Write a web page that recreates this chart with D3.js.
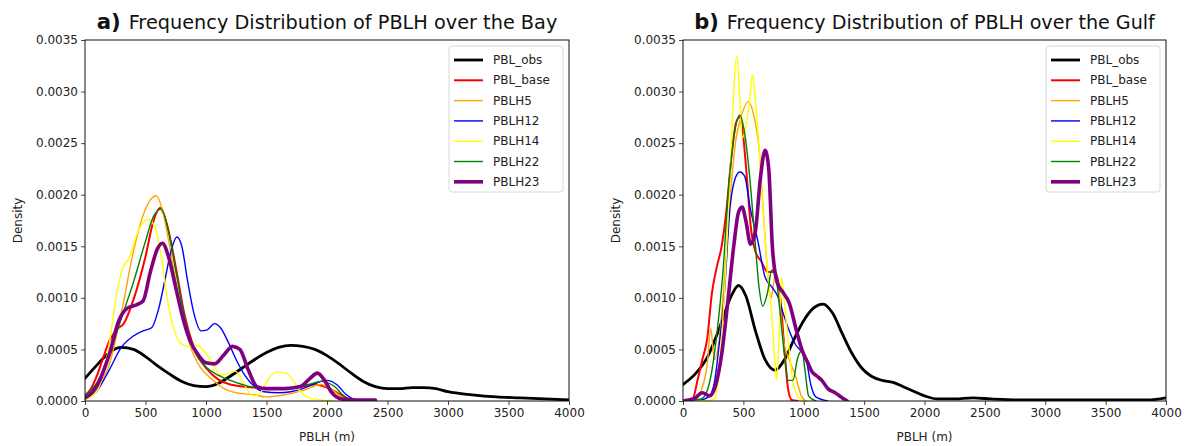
<!DOCTYPE html>
<html><head><meta charset="utf-8">
<script src="https://cdn.jsdelivr.net/npm/d3@7"></script>
<style>body{margin:0;background:#fff}svg{display:block}text{font-family:"DejaVu Sans",sans-serif}</style>
</head><body><svg id="c" width="1188" height="446"></svg>
<script>
// ---- Data (PBLH in m, density) ----
const xTicks = [0,500,1000,1500,2000,2500,3000,3500,4000];
const yTicks = [0,0.0005,0.001,0.0015,0.002,0.0025,0.003,0.0035];
const seriesNames = ["PBL_obs","PBL_base","PBLH5","PBLH12","PBLH14","PBLH22","PBLH23"];
const seriesColors = ["#000000","#ff0000","#ffa500","#0000ff","#ffff00","#008000","#800080"];
const seriesWidths = [2.8,2,1.4,1.4,1.4,1.4,3.6];
const panelTitles = ["Frequency Distribution of PBLH over the Bay","Frequency Distribution of PBLH over the Gulf"];
const panelTags = ["a)","b)"];

// Bay
const bay_PBL_obs = [[0,0.00022],[100,0.00035],[200,0.00047],[300,0.00052],[400,0.00050],[500,0.00043],[600,0.00034],[700,0.00026],[800,0.00019],[900,0.00015],[1000,0.00014],[1100,0.00017],[1200,0.00024],[1300,0.00032],[1400,0.00040],[1500,0.00047],[1600,0.00052],[1700,0.00054],[1800,0.00053],[1900,0.00050],[2000,0.00044],[2100,0.00036],[2200,0.00027],[2300,0.00019],[2400,0.00014],[2500,0.00012],[2600,0.00012],[2700,0.00013],[2800,0.00013],[2900,0.00012],[3000,0.00009],[3200,0.00006],[3400,0.00004],[3600,0.00003],[3800,0.00002],[4000,0.00001]];
const bay_PBL_base = [[0,0.00005],[50,0.00012],[100,0.00025],[150,0.00042],[200,0.00058],[270,0.00070],[320,0.00075],[400,0.00098],[500,0.00140],[560,0.00172],[620,0.00187],[680,0.00170],[750,0.00130],[820,0.00085],[900,0.00052],[1000,0.00032],[1100,0.00021],[1200,0.00016],[1400,0.00013],[1600,0.00012],[1800,0.00014],[1900,0.00016],[2000,0.00013],[2100,0.00007],[2200,0.00001],[2250,0]];
const bay_PBLH5 = [[0,0.00002],[100,0.00012],[200,0.00035],[300,0.00085],[400,0.00145],[480,0.00180],[540,0.00195],[590,0.00199],[640,0.00185],[700,0.00150],[760,0.00110],[820,0.00075],[880,0.00050],[950,0.00033],[1050,0.00021],[1150,0.00012],[1250,0.00008],[1400,0.00006],[1500,0.00004],[1650,0.00006],[1800,0.00010],[1950,0.00016],[2050,0.00010],[2150,0.00002],[2200,0]];
const bay_PBLH12 = [[0,0.00002],[100,0.00010],[200,0.00030],[300,0.00052],[400,0.00063],[480,0.00068],[550,0.00071],[610,0.00090],[660,0.00117],[710,0.00145],[760,0.00159],[800,0.00150],[850,0.00115],[900,0.00085],[960,0.00068],[1010,0.00069],[1070,0.00075],[1120,0.00071],[1180,0.00058],[1250,0.00040],[1320,0.00025],[1400,0.00014],[1480,0.00009],[1600,0.00008],[1700,0.00009],[1800,0.00012],[1900,0.00017],[2000,0.00020],[2080,0.00016],[2160,0.00006],[2250,0]];
const bay_PBLH14 = [[0,0.00001],[100,0.00010],[200,0.00055],[250,0.00095],[300,0.00125],[370,0.00140],[440,0.00165],[520,0.00176],[580,0.00168],[630,0.00140],[690,0.00092],[740,0.00068],[790,0.00056],[850,0.00053],[920,0.00054],[1000,0.00046],[1060,0.00035],[1120,0.00025],[1180,0.00026],[1240,0.00029],[1290,0.00022],[1340,0.00011],[1400,0.00005],[1450,0.00008],[1520,0.00022],[1590,0.00028],[1660,0.00027],[1720,0.00020],[1780,0.00009],[1850,0.00003],[1950,0.00001],[2050,0]];
const bay_PBLH22 = [[0,0.00006],[100,0.00018],[200,0.00045],[300,0.00080],[400,0.00115],[500,0.00155],[570,0.00180],[630,0.00186],[690,0.00165],[760,0.00120],[830,0.00078],[900,0.00050],[1000,0.00033],[1100,0.00025],[1200,0.00020],[1300,0.00016],[1400,0.00013],[1550,0.00012],[1700,0.00013],[1850,0.00016],[1950,0.00019],[2050,0.00015],[2150,0.00004],[2250,0]];
const bay_PBLH23 = [[0,0.00003],[100,0.00015],[200,0.00045],[280,0.00078],[350,0.00090],[420,0.00093],[480,0.00097],[540,0.00125],[600,0.00148],[640,0.00153],[690,0.00140],[750,0.00110],[810,0.00080],[870,0.00058],[940,0.00044],[1000,0.00037],[1070,0.00036],[1150,0.00045],[1220,0.00053],[1280,0.00050],[1350,0.00030],[1420,0.00014],[1500,0.00012],[1650,0.00012],[1780,0.00014],[1860,0.00022],[1920,0.00027],[1980,0.00020],[2040,0.00008],[2120,0.00002],[2250,0.00001],[2400,0.00001]];

// Gulf
const gulf_PBL_obs = [[0,0.00016],[100,0.00026],[200,0.00042],[300,0.00070],[400,0.00102],[460,0.00112],[520,0.00102],[600,0.00068],[680,0.00040],[760,0.00030],[840,0.00040],[920,0.00060],[1000,0.00078],[1080,0.00090],[1160,0.00094],[1240,0.00085],[1320,0.00065],[1400,0.00046],[1480,0.00032],[1560,0.00024],[1650,0.00020],[1740,0.00018],[1820,0.00014],[1900,0.00010],[2000,0.00005],[2100,0.00002],[2250,0.00002],[2400,0.00003],[2550,0.00002],[2800,0.00001],[3200,0.00001],[3600,0.00001],[3850,0.00001],[4000,0.00003]];
const gulf_PBL_base = [[0,0],[80,0.00002],[120,0.00020],[160,0.00040],[200,0.00060],[240,0.00105],[280,0.00130],[320,0.00150],[360,0.00185],[400,0.00235],[440,0.00270],[470,0.00275],[500,0.00255],[530,0.00215],[560,0.00170],[600,0.00145],[650,0.00135],[700,0.00125],[750,0.00125],[780,0.00120],[810,0.00095],[840,0.00050],[870,0.00012],[900,0.00001],[950,0]];
const gulf_PBLH5 = [[0,0],[100,0.00001],[150,0.00010],[200,0.00035],[230,0.00070],[260,0.00040],[300,0.00060],[350,0.00130],[400,0.00210],[440,0.00255],[480,0.00275],[540,0.00290],[590,0.00275],[630,0.00245],[670,0.00175],[700,0.00125],[730,0.00100],[760,0.00120],[790,0.00110],[830,0.00060],[880,0.00040],[930,0.00025],[980,0.00005],[1020,0]];
const gulf_PBLH12 = [[0,0],[150,0.00001],[220,0.00005],[260,0.00018],[300,0.00055],[340,0.00100],[390,0.00188],[430,0.00215],[470,0.00222],[510,0.00218],[560,0.00185],[620,0.00155],[680,0.00120],[740,0.00110],[790,0.00100],[830,0.00085],[880,0.00068],[930,0.00055],[980,0.00048],[1020,0.00040],[1060,0.00015],[1100,0.00004],[1200,0]];
const gulf_PBLH14 = [[0,0],[200,0],[260,0.00002],[300,0.00030],[350,0.00120],[390,0.00220],[420,0.00300],[445,0.00335],[470,0.00295],[490,0.00255],[520,0.00265],[550,0.00290],[575,0.00316],[600,0.00290],[630,0.00245],[660,0.00190],[700,0.00125],[730,0.00090],[760,0.00040],[775,0.00020],[795,0.00060],[815,0.00120],[840,0.00095],[870,0.00060],[910,0.00020],[960,0.00003],[1000,0]];
const gulf_PBLH22 = [[0,0],[150,0.00002],[200,0.00010],[240,0.00030],[280,0.00065],[330,0.00124],[380,0.00210],[420,0.00255],[470,0.00277],[510,0.00260],[550,0.00220],[590,0.00165],[630,0.00110],[660,0.00092],[700,0.00105],[735,0.00127],[770,0.00120],[800,0.00090],[840,0.00045],[870,0.00020],[910,0.00020],[950,0.00042],[985,0.00049],[1010,0.00030],[1040,0.00005],[1100,0]];
const gulf_PBLH23 = [[0,0],[100,0.00003],[160,0.00008],[220,0.00005],[270,0.00015],[320,0.00045],[370,0.00095],[420,0.00150],[460,0.00183],[490,0.00188],[520,0.00175],[560,0.00152],[600,0.00165],[640,0.00215],[680,0.00243],[710,0.00225],[740,0.00150],[780,0.00115],[830,0.00105],[880,0.00095],[940,0.00068],[990,0.00048],[1030,0.00038],[1070,0.00028],[1110,0.00024],[1150,0.00020],[1200,0.00012],[1260,0.00008],[1320,0.00003],[1360,0]];

const baySeries = [bay_PBL_obs,bay_PBL_base,bay_PBLH5,bay_PBLH12,bay_PBLH14,bay_PBLH22,bay_PBLH23];
const gulfSeries = [gulf_PBL_obs,gulf_PBL_base,gulf_PBLH5,gulf_PBLH12,gulf_PBLH14,gulf_PBLH22,gulf_PBLH23];

// ---- Drawing ----
const svg = d3.select("#c");
const plotTop = 40, plotBottom = 401;
const panels = [
  {x0:85, x1:569, data:baySeries, title:panelTitles[0], tag:panelTags[0], ylab:18},
  {x0:683, x1:1166, data:gulfSeries, title:panelTitles[1], tag:panelTags[1], ylab:616}
];

panels.forEach((p, pi) => {
  const x = d3.scaleLinear().domain([0,4000]).range([p.x0,p.x1]);
  const y = d3.scaleLinear().domain([0,0.0035]).range([plotBottom,plotTop]);
  const g = svg.append("g");
  const clipId = "clip"+pi;
  svg.append("clipPath").attr("id",clipId).append("rect")
    .attr("x",p.x0).attr("y",plotTop-2).attr("width",p.x1-p.x0).attr("height",plotBottom-plotTop+2);

  const line = d3.line().x(d=>x(d[0])).y(d=>y(d[1])).curve(d3.curveMonotoneX);
  const lg = g.append("g").attr("clip-path","url(#"+clipId+")");
  p.data.forEach((s,i) => {
    lg.append("path").datum(s).attr("d",line).attr("fill","none")
      .attr("stroke",seriesColors[i]).attr("stroke-width",seriesWidths[i])
      .attr("stroke-linejoin","round").attr("stroke-linecap","round");
  });

  const xa = g.append("g").attr("transform",`translate(0,${plotBottom})`)
    .call(d3.axisBottom(x).tickValues(xTicks).tickSize(4).tickPadding(3).tickFormat(d=>d));
  const ya = g.append("g").attr("transform",`translate(${p.x0},0)`)
    .call(d3.axisLeft(y).tickValues(yTicks).tickSize(4).tickPadding(3).tickFormat(d3.format(".4f")));
  [xa,ya].forEach(a=>{
    a.select(".domain").remove();
    a.selectAll(".tick line").attr("stroke","#333").attr("stroke-width",0.9);
    a.selectAll(".tick text").attr("fill","#222").style("font-size","12px").style("font-family","DejaVu Sans, sans-serif");
  });
  g.append("rect").attr("x",p.x0).attr("y",plotTop).attr("width",p.x1-p.x0).attr("height",plotBottom-plotTop)
    .attr("fill","none").attr("stroke","#111").attr("stroke-width",1);

  g.append("text").attr("x",(p.x0+p.x1)/2).attr("y",441).attr("text-anchor","middle")
    .attr("fill","#222").style("font-size","12px").text("PBLH (m)");
  g.append("text").attr("transform",`translate(${p.ylab},${(plotTop+plotBottom)/2}) rotate(-90)`)
    .attr("text-anchor","middle").attr("dominant-baseline","central")
    .attr("fill","#222").style("font-size","12px").text("Density");

  const t = g.append("text").attr("x",(p.x0+p.x1)/2).attr("y",29).attr("text-anchor","middle").attr("fill","#111");
  const ts1 = t.append("tspan").style("font-weight","bold").style("font-size","22px").text(p.tag);
  const ts2 = t.append("tspan").attr("dx",8).style("font-size","20px").text(p.title);
  const w = t.node().getComputedTextLength();
  const f = 453 / w;
  ts1.style("font-size",(22*f)+"px");
  ts2.style("font-size",(20*f)+"px");

  const lw = 114, lh = 146, lx = p.x1 - 6 - lw, ly = 46;
  const leg = g.append("g");
  leg.append("rect").attr("x",lx).attr("y",ly).attr("width",lw).attr("height",lh).attr("rx",3)
    .attr("fill","#fff").attr("fill-opacity",0.85).attr("stroke","#d8d8d8").attr("stroke-width",1);
  seriesNames.forEach((n,i)=>{
    const yy = 60 + i*20.3;
    leg.append("line").attr("x1",lx+5).attr("x2",lx+34).attr("y1",yy).attr("y2",yy)
      .attr("stroke",seriesColors[i]).attr("stroke-width",seriesWidths[i]);
    leg.append("text").attr("x",lx+44).attr("y",yy).attr("dominant-baseline","central")
      .attr("fill","#222").style("font-size","12px").text(n);
  });
});
</script></body></html>
